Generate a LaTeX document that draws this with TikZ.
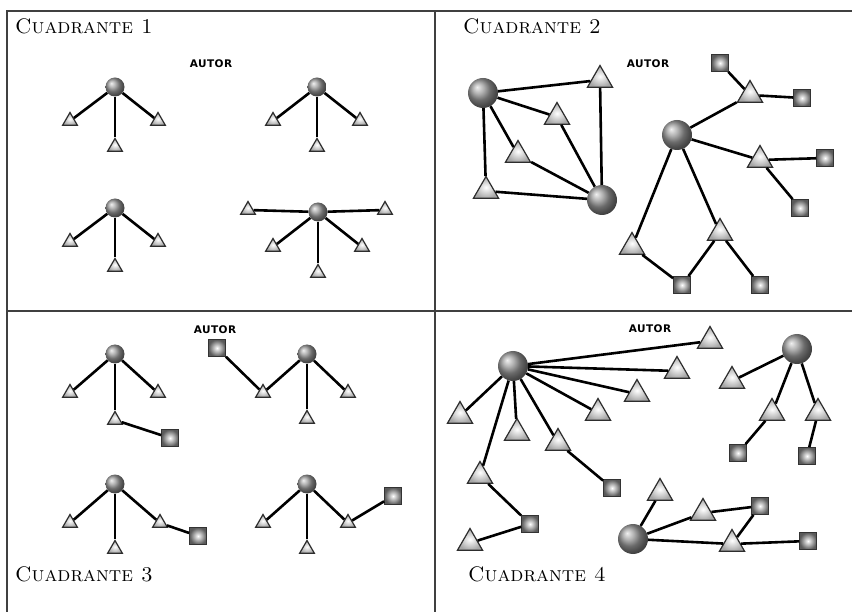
\documentclass[tikz,border=0pt]{standalone}
\usepackage{fontspec}
\newfontfamily\autorfont[LetterSpace=4]{DejaVu Sans}
\usetikzlibrary{positioning,shapes.geometric}

\begin{document}
\begin{tikzpicture}[x=1pt, y=-1pt]
    % Define styles
    \tikzstyle{hub} = [circle, inner sep=0pt, minimum size=19pt, ball color=gray!80]
    \tikzstyle{bighub} = [hub, minimum size=30pt]
    \tikzstyle{tri} = [regular polygon, regular polygon sides=3, inner sep=0pt, minimum size=17pt, draw=gray!35!black, line width=1.2pt, inner color=white, outer color=gray!70]
    \tikzstyle{bigtri} = [tri, minimum size=29pt]
    \tikzstyle{sq} = [rectangle, inner sep=0pt, minimum size=17pt, draw=gray!40!black, line width=0.8pt, inner color=white, outer color=gray!70!black]
    \tikzstyle{link} = [line width=2.6pt, black]
    \tikzstyle{frame} = [line width=1.5pt, gray!50!black]
    \tikzstyle{title} = [anchor=west, inner sep=0pt, font=\fontsize{21}{25}\selectfont\scshape]
    \tikzstyle{autor} = [inner sep=0pt, font=\autorfont\bfseries\fontsize{10.5}{12}\selectfont]

    \useasboundingbox (0,0) rectangle (852,612);

    % FRAME
    \draw[frame] (7,612) -- (7,11) -- (852,11);
    \draw[frame] (435,11) -- (435,612);
    \draw[frame] (7,311) -- (852,311);

    % TITLES
    \node (q1_title) [title] at (15,26) {Cuadrante 1};
    \node (q2_title) [title] at (463,26) {Cuadrante 2};
    \node (q3_title) [title] at (15,574) {Cuadrante 3};
    \node (q4_title) [title] at (468,574) {Cuadrante 4};
    \node (q1_autor) [autor] at (211,64) {AUTOR};
    \node (q2_autor) [autor] at (648,64) {AUTOR};
    \node (q3_autor) [autor] at (215,330) {AUTOR};
    \node (q4_autor) [autor] at (650,329) {AUTOR};

    % CUADRANTE 1
    \node (q1a_hub) [hub] at (115,87) {};
    \node (q1a_t1) [tri] at (70,121) {};
    \node (q1a_t2) [tri] at (115,147) {};
    \node (q1a_t3) [tri] at (158,121) {};

    \node (q1b_hub) [hub] at (317,87) {};
    \node (q1b_t1) [tri] at (273,121) {};
    \node (q1b_t2) [tri] at (317,147) {};
    \node (q1b_t3) [tri] at (360,121) {};

    \node (q1c_hub) [hub] at (115,208) {};
    \node (q1c_t1) [tri] at (70,242) {};
    \node (q1c_t2) [tri] at (115,267) {};
    \node (q1c_t3) [tri] at (158,242) {};

    \node (q1d_hub) [hub] at (318,212) {};
    \node (q1d_t1) [tri] at (248,210) {};
    \node (q1d_t2) [tri] at (385,210) {};
    \node (q1d_t3) [tri] at (273,247) {};
    \node (q1d_t4) [tri] at (318,273) {};
    \node (q1d_t5) [tri] at (362,247) {};

    % CUADRANTE 2
    \node (q2a_hub) [bighub] at (483,93) {};
    \node (q2b_hub) [bighub] at (602,200) {};
    \node (q2a_t1) [bigtri] at (600,80) {};
    \node (q2a_t2) [bigtri] at (557,117) {};
    \node (q2a_t3) [bigtri] at (518,155) {};
    \node (q2a_t4) [bigtri] at (486,191) {};

    \node (q2c_hub) [bighub] at (677,135) {};
    \node (q2c_t1) [bigtri] at (750,95) {};
    \node (q2c_s1) [sq] at (720,63) {};
    \node (q2c_s2) [sq] at (802,98) {};
    \node (q2c_t2) [bigtri] at (760,160) {};
    \node (q2c_s3) [sq] at (825,158) {};
    \node (q2c_s4) [sq] at (800,208) {};
    \node (q2c_t3) [bigtri] at (632,247) {};
    \node (q2c_t4) [bigtri] at (720,233) {};
    \node (q2c_s5) [sq] at (682,285) {};
    \node (q2c_s6) [sq] at (760,285) {};

    % CUADRANTE 3
    \node (q3a_hub) [hub] at (115,354) {};
    \node (q3a_t1) [tri] at (70,393) {};
    \node (q3a_t2) [tri] at (158,393) {};
    \node (q3a_t3) [tri] at (115,420) {};
    \node (q3a_s1) [sq] at (170,438) {};

    \node (q3b_hub) [hub] at (307,354) {};
    \node (q3b_t1) [tri] at (263,393) {};
    \node (q3b_t2) [tri] at (348,393) {};
    \node (q3b_t3) [tri] at (307,419) {};
    \node (q3b_s1) [sq] at (217,348) {};

    \node (q3c_hub) [hub] at (115,484) {};
    \node (q3c_t1) [tri] at (70,523) {};
    \node (q3c_t2) [tri] at (160,523) {};
    \node (q3c_t3) [tri] at (115,549) {};
    \node (q3c_s1) [sq] at (198,536) {};

    \node (q3d_hub) [hub] at (307,484) {};
    \node (q3d_t1) [tri] at (263,523) {};
    \node (q3d_t2) [tri] at (348,523) {};
    \node (q3d_t3) [tri] at (307,549) {};
    \node (q3d_s1) [sq] at (393,496) {};

    % CUADRANTE 4
    \node (q4a_hub) [bighub] at (513,366) {};
    \node (q4a_t1) [bigtri] at (710,341) {};
    \node (q4a_t2) [bigtri] at (677,371) {};
    \node (q4a_t3) [bigtri] at (637,394) {};
    \node (q4a_t4) [bigtri] at (598,413) {};
    \node (q4a_t5) [bigtri] at (558,443) {};
    \node (q4a_t6) [bigtri] at (517,433) {};
    \node (q4a_t7) [bigtri] at (460,416) {};
    \node (q4a_t8) [bigtri] at (480,476) {};
    \node (q4a_s1) [sq] at (612,488) {};
    \node (q4a_s2) [sq] at (530,524) {};
    \node (q4a_t9) [bigtri] at (470,543) {};

    \node (q4b_hub) [bighub] at (797,349) {};
    \node (q4b_t1) [bigtri] at (732,381) {};
    \node (q4b_t2) [bigtri] at (772,413) {};
    \node (q4b_t3) [bigtri] at (818,413) {};
    \node (q4b_s1) [sq] at (738,453) {};
    \node (q4b_s2) [sq] at (807,456) {};

    \node (q4c_hub) [bighub] at (633,539) {};
    \node (q4c_t1) [bigtri] at (660,493) {};
    \node (q4c_t2) [bigtri] at (703,513) {};
    \node (q4c_t3) [bigtri] at (732,544) {};
    \node (q4c_s1) [sq] at (760,506) {};
    \node (q4c_s2) [sq] at (808,541) {};

    % CONNECTIONS
    \draw[link] (q1a_hub) -- (q1a_t1);
    \draw[link] (q1a_hub) -- (q1a_t2);
    \draw[link] (q1a_hub) -- (q1a_t3);
    \draw[link] (q1b_hub) -- (q1b_t1);
    \draw[link] (q1b_hub) -- (q1b_t2);
    \draw[link] (q1b_hub) -- (q1b_t3);
    \draw[link] (q1c_hub) -- (q1c_t1);
    \draw[link] (q1c_hub) -- (q1c_t2);
    \draw[link] (q1c_hub) -- (q1c_t3);
    \draw[link] (q1d_hub) -- (q1d_t1);
    \draw[link] (q1d_hub) -- (q1d_t2);
    \draw[link] (q1d_hub) -- (q1d_t3);
    \draw[link] (q1d_hub) -- (q1d_t4);
    \draw[link] (q1d_hub) -- (q1d_t5);

    \draw[link] (q2a_hub) -- (q2a_t1);
    \draw[link] (q2a_hub) -- (q2a_t2);
    \draw[link] (q2a_hub) -- (q2a_t3);
    \draw[link] (q2a_hub) -- (q2a_t4);
    \draw[link] (q2a_t1) -- (q2b_hub);
    \draw[link] (q2a_t2) -- (q2b_hub);
    \draw[link] (q2a_t3) -- (q2b_hub);
    \draw[link] (q2a_t4) -- (q2b_hub);
    \draw[link] (q2c_hub) -- (q2c_t1);
    \draw[link] (q2c_t1) -- (q2c_s1);
    \draw[link] (q2c_t1) -- (q2c_s2);
    \draw[link] (q2c_hub) -- (q2c_t2);
    \draw[link] (q2c_t2) -- (q2c_s3);
    \draw[link] (q2c_t2) -- (q2c_s4);
    \draw[link] (q2c_hub) -- (q2c_t3);
    \draw[link] (q2c_hub) -- (q2c_t4);
    \draw[link] (q2c_t3) -- (q2c_s5);
    \draw[link] (q2c_t4) -- (q2c_s5);
    \draw[link] (q2c_t4) -- (q2c_s6);

    \draw[link] (q3a_hub) -- (q3a_t1);
    \draw[link] (q3a_hub) -- (q3a_t2);
    \draw[link] (q3a_hub) -- (q3a_t3);
    \draw[link] (q3a_t3) -- (q3a_s1);
    \draw[link] (q3b_hub) -- (q3b_t1);
    \draw[link] (q3b_hub) -- (q3b_t2);
    \draw[link] (q3b_hub) -- (q3b_t3);
    \draw[link] (q3b_t1) -- (q3b_s1);
    \draw[link] (q3c_hub) -- (q3c_t1);
    \draw[link] (q3c_hub) -- (q3c_t2);
    \draw[link] (q3c_hub) -- (q3c_t3);
    \draw[link] (q3c_t2) -- (q3c_s1);
    \draw[link] (q3d_hub) -- (q3d_t1);
    \draw[link] (q3d_hub) -- (q3d_t2);
    \draw[link] (q3d_hub) -- (q3d_t3);
    \draw[link] (q3d_t2) -- (q3d_s1);

    \draw[link] (q4a_hub) -- (q4a_t1);
    \draw[link] (q4a_hub) -- (q4a_t2);
    \draw[link] (q4a_hub) -- (q4a_t3);
    \draw[link] (q4a_hub) -- (q4a_t4);
    \draw[link] (q4a_hub) -- (q4a_t5);
    \draw[link] (q4a_hub) -- (q4a_t6);
    \draw[link] (q4a_hub) -- (q4a_t7);
    \draw[link] (q4a_hub) -- (q4a_t8);
    \draw[link] (q4a_t5) -- (q4a_s1);
    \draw[link] (q4a_t8) -- (q4a_s2);
    \draw[link] (q4a_s2) -- (q4a_t9);
    \draw[link] (q4b_hub) -- (q4b_t1);
    \draw[link] (q4b_hub) -- (q4b_t2);
    \draw[link] (q4b_hub) -- (q4b_t3);
    \draw[link] (q4b_t2) -- (q4b_s1);
    \draw[link] (q4b_t3) -- (q4b_s2);
    \draw[link] (q4c_hub) -- (q4c_t1);
    \draw[link] (q4c_hub) -- (q4c_t2);
    \draw[link] (q4c_hub) -- (q4c_t3);
    \draw[link] (q4c_t2) -- (q4c_s1);
    \draw[link] (q4c_s1) -- (q4c_t3);
    \draw[link] (q4c_t3) -- (q4c_s2);

\end{tikzpicture}
\end{document}
